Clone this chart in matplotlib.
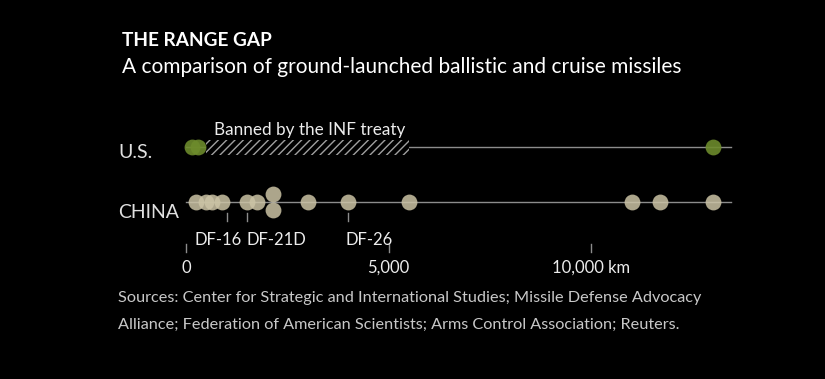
import matplotlib.pyplot as plt
from matplotlib.patches import Rectangle

# ranges in km
us_ranges = [150, 300, 13000]
china_ranges = [250, 500, 650, 900, 1500, 1750, 3000, 4000, 5500, 11000, 11700, 13000]
china_stacked = [2150, 2150]          # two missiles at the same range, drawn above/below the line
labels = ["DF-16", "DF-21D", "DF-26"]
label_ranges = [1000, 1500, 4000]
ticks = [0, 5000, 10000]
tick_labels = ["0", "5,000", "10,000 km"]
inf_zone = (500, 5500)
axis_end = 13450

BG = "black"
TAN = "#cbc3a5"
GREEN = "#6d8b2c"
GRAY = "#8c8c8c"
TXT = "#ececec"
FONT = "Lato"

W, H = 825, 379
fig = plt.figure(figsize=(W / 100, H / 100), dpi=100, facecolor=BG)
ax = fig.add_axes([0, 0, 1, 1])
ax.set_facecolor(BG)
ax.axis("off")

# x in km, y in pixel rows
px_per_km = 0.0405
x0 = 186
ax.set_xlim(-x0 / px_per_km, (W - x0) / px_per_km)
ax.set_ylim(H, 0)

us_y, cn_y = 147, 202

ax.plot([0, axis_end], [us_y, us_y], color=GRAY, lw=1, zorder=1)
ax.plot([0, axis_end], [cn_y, cn_y], color=GRAY, lw=1, zorder=1)

plt.rcParams["hatch.linewidth"] = 1.0
ax.add_patch(Rectangle((inf_zone[0], 140), inf_zone[1] - inf_zone[0], 15,
                       facecolor=BG, edgecolor="#a0a0a0", hatch="////", lw=0, zorder=2))
ax.text(inf_zone[1] - 90, 130, "Banned by the INF treaty", color=TXT, fontsize=12.3,
        family=FONT, ha="right", va="center")

ax.scatter(us_ranges, [us_y] * len(us_ranges), s=130, color=GREEN, alpha=0.9, lw=0, zorder=3)
ax.scatter(china_ranges, [cn_y] * len(china_ranges), s=130, color=TAN, alpha=0.85, lw=0, zorder=3)
ax.scatter(china_stacked, [cn_y - 8, cn_y + 8], s=130, color=TAN, alpha=0.85, lw=0, zorder=3)

for r in label_ranges:
    ax.plot([r, r], [213, 221], color=GRAY, lw=1)
ax.text(800, 240, labels[0], color=TXT, fontsize=12, family=FONT, ha="center", va="center")
ax.text(1500, 240, labels[1], color=TXT, fontsize=12, family=FONT, ha="left", va="center")
ax.text(3950, 240, labels[2], color=TXT, fontsize=12, family=FONT, ha="left", va="center")

for t, tl in zip(ticks, tick_labels):
    ax.plot([t, t], [244, 252], color=GRAY, lw=1)
    ax.text(t, 268, tl, color=TXT, fontsize=12, family=FONT, ha="center", va="center")

fig.text(118 / W, 1 - 152 / H, "U.S.", color="#e0e0e0", fontsize=14, family=FONT, va="center")
fig.text(118 / W, 1 - 212 / H, "CHINA", color="#e0e0e0", fontsize=14, family=FONT, va="center")

fig.text(122 / W, 1 - 40 / H, "THE RANGE GAP", color="white", fontsize=13.7, family=FONT, weight="bold", va="center")
fig.text(122 / W, 1 - 67 / H, "A comparison of ground-launched ballistic and cruise missiles",
         color="white", fontsize=15, family=FONT, va="center")
fig.text(118 / W, 1 - 298 / H, "Sources: Center for Strategic and International Studies; Missile Defense Advocacy",
         color="#c8c8c8", fontsize=11.7, family=FONT, va="center")
fig.text(118 / W, 1 - 325 / H, "Alliance; Federation of American Scientists; Arms Control Association; Reuters.",
         color="#c8c8c8", fontsize=11.7, family=FONT, va="center")

fig.savefig("out.png", dpi=100, facecolor=BG)
